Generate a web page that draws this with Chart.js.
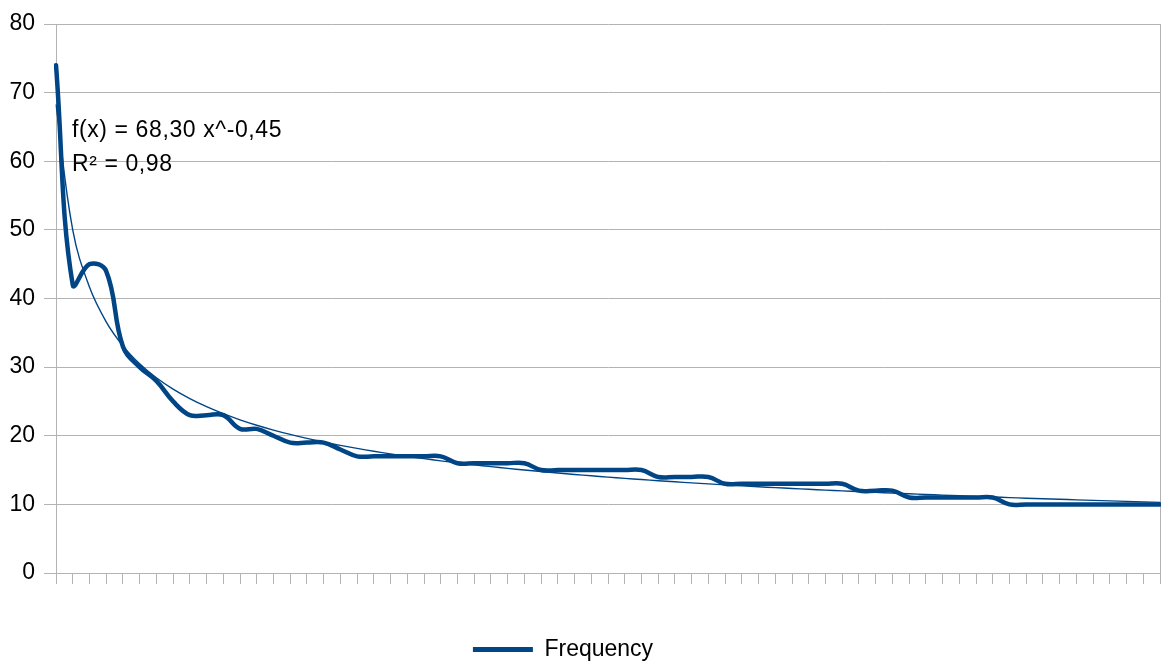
<!DOCTYPE html>
<html>
<head>
<meta charset="utf-8">
<title>Frequency</title>
<script src="https://cdn.jsdelivr.net/npm/chart.js@4.4.1/dist/chart.umd.min.js"></script>
<style>
  html, body { margin: 0; padding: 0; background: #fff; }
  #chart-wrapper { width: 1161px; height: 664px; }
</style>
</head>
<body>
<div id="chart-wrapper"><canvas id="freq-chart"></canvas></div>
<script>
// rank of each entry (x axis categories)
const ranks = [
  1, 2, 3, 4, 5, 6, 7, 8, 9, 10, 11, 12, 13, 14, 15, 16, 17, 18, 19, 20,
  21, 22, 23, 24, 25, 26, 27, 28, 29, 30, 31, 32, 33, 34, 35, 36, 37, 38, 39, 40,
  41, 42, 43, 44, 45, 46, 47, 48, 49, 50, 51, 52, 53, 54, 55, 56, 57, 58, 59, 60,
  61, 62, 63, 64, 65, 66, 67,
];

const frequency = [
  74, 42, 45, 44, 33, 30, 28, 25, 23, 23, 23, 21, 21, 20, 19, 19, 19, 18, 17, 17,
  17, 17, 17, 17, 16, 16, 16, 16, 16, 15, 15, 15, 15, 15, 15, 15, 14, 14, 14, 14,
  13, 13, 13, 13, 13, 13, 13, 13, 12, 12, 12, 11, 11, 11, 11, 11, 11, 10, 10, 10,
  10, 10, 10, 10, 10, 10, 10,
];

const yTicks = [0, 10, 20, 30, 40, 50, 60, 70, 80];

// power trend line f(x) = a * x^b
const trendCoef = 68.3;
const trendExp = -0.45;
const trendR2 = 0.98;

const lineColor = "#004586";
const gridColor = "#b3b3b3";
const fontFamily = '"Liberation Sans", Arial, sans-serif';

const fmt = (v) => v.toFixed(2).replace(".", ",");
const fitText = `f(x) = ${fmt(trendCoef)} x^${fmt(trendExp)}`;
const r2Text = `R² = ${fmt(trendR2)}`;

const trend = ranks.map((x) => trendCoef * Math.pow(x, trendExp));

Chart.defaults.font.family = fontFamily;
Chart.defaults.font.size = 23;
Chart.defaults.color = "#000";

// equation + R² text next to the curve
const fitLabel = {
  id: "fitLabel",
  afterDatasetsDraw(chart) {
    const { ctx, chartArea } = chart;
    ctx.save();
    ctx.font = `23px ${fontFamily}`;
    ctx.letterSpacing = "0.6px";
    ctx.fillStyle = "#000";
    ctx.textAlign = "left";
    ctx.textBaseline = "alphabetic";
    ctx.fillText(fitText, chartArea.left + 16, chartArea.top + 113);
    ctx.fillText(r2Text, chartArea.left + 16, chartArea.top + 147);
    ctx.restore();
  },
};

// nudge the legend a little left of the canvas centre
const legendShift = {
  id: "legendShift",
  afterLayout(chart) {
    if (chart.legend) {
      chart.legend.left -= 17;
      chart.legend.right -= 17;
    }
  },
};

const lastIndex = ranks.length - 1;

new Chart(document.getElementById("freq-chart"), {
  type: "line",
  data: {
    labels: ranks,
    datasets: [
      {
        label: "Frequency",
        data: frequency,
        borderColor: lineColor,
        backgroundColor: lineColor,
        borderWidth: 4.5,
        pointRadius: 0,
        tension: 0.4,
        borderCapStyle: "round",
        borderJoinStyle: "round",
        fill: false,
      },
      {
        label: "Power trend",
        data: trend,
        borderColor: lineColor,
        borderWidth: 1.4,
        pointRadius: 0,
        tension: 0.4,
        fill: false,
      },
    ],
  },
  options: {
    responsive: true,
    maintainAspectRatio: false,
    animation: false,
    devicePixelRatio: 1,
    layout: { padding: { top: 24, right: 1, bottom: -7, left: 0 } },
    plugins: {
      tooltip: { enabled: false },
      legend: {
        position: "bottom",
        labels: {
          boxWidth: 60,
          boxHeight: 5,
          padding: 10,
          color: "#000",
          font: { size: 23 },
          generateLabels: (chart) =>
            Chart.defaults.plugins.legend.labels
              .generateLabels(chart)
              .filter((item) => item.datasetIndex === 0)
              .map((item) => ({ ...item, lineWidth: 0, fillStyle: lineColor })),
        },
      },
    },
    scales: {
      x: {
        type: "category",
        offset: false,
        grid: {
          drawOnChartArea: true,
          color: (ctx) => (ctx.index === lastIndex ? gridColor : "rgba(0,0,0,0)"),
          tickColor: gridColor,
          tickLength: 11,
          lineWidth: 1,
        },
        border: { display: true, color: gridColor, width: 1 },
        ticks: { display: false, autoSkip: false, maxRotation: 0 },
        afterFit: (scale) => {
          scale.height = 55;
        },
      },
      y: {
        min: 0,
        max: 80,
        afterBuildTicks: (scale) => {
          scale.ticks = yTicks.map((v) => ({ value: v }));
        },
        grid: {
          color: gridColor,
          tickColor: gridColor,
          tickLength: 12,
          lineWidth: 1,
        },
        border: { display: true, color: gridColor, width: 1 },
        ticks: { padding: 9, color: "#000", font: { size: 23 } },
        afterFit: (scale) => {
          scale.width = 56;
        },
      },
    },
  },
  plugins: [fitLabel, legendShift],
});
</script>
</body>
</html>
